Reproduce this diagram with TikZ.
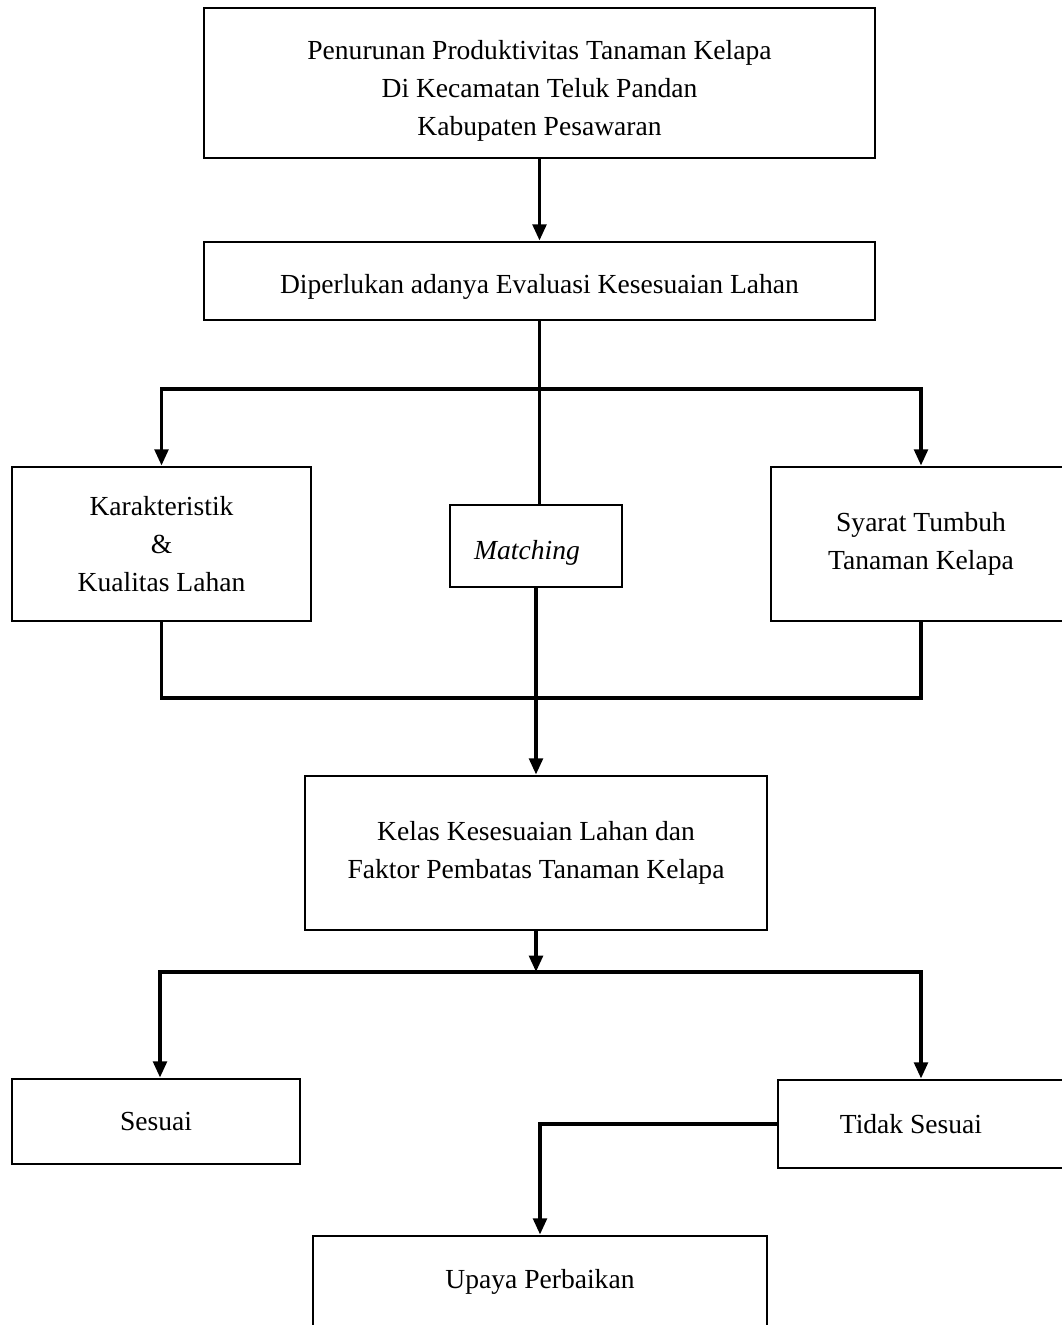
\documentclass[tikz,border=0pt]{standalone}
\usepackage{fontspec}
\setmainfont{Liberation Serif}
\usetikzlibrary{arrows.meta}
\begin{document}
\begin{tikzpicture}[x=0.025cm,y=-0.025cm,
  kotak/.style={draw,line width=1.9pt,align=center,inner sep=0pt,font=\fontsize{19.6}{27.2}\selectfont},
  garis/.style={line width=2.7pt,line cap=rect},
  panah/.style={garis,-{Triangle[width=9.6pt,length=11.6pt]}}]

\clip (0,0) rectangle (1062,1325);

\node[kotak,minimum width=16.775cm,minimum height=3.75cm] (masalah) at (539.5,83) {\rule{0pt}{0.87cm}Penurunan Produktivitas Tanaman Kelapa\\Di Kecamatan Teluk Pandan\\Kabupaten Pesawaran};
\node[kotak,minimum width=16.775cm,minimum height=1.95cm] (evaluasi) at (539.5,281) {\rule{0pt}{0.77cm}Diperlukan adanya Evaluasi Kesesuaian Lahan};
\node[kotak,minimum width=7.475cm,minimum height=3.85cm] (karakter) at (161.5,544) {Karakteristik\\\&\\Kualitas Lahan};
\node[kotak,minimum width=4.3cm,minimum height=2.05cm] (matching) at (536,546) {\rule{0pt}{0.8cm}\textit{Matching}\hspace{0.45cm}};
\node[kotak,minimum width=7.5cm,minimum height=3.85cm] (syarat) at (921,544) {Syarat Tumbuh\\Tanaman Kelapa};
\node[kotak,minimum width=11.55cm,minimum height=3.85cm] (kelas) at (536,853) {Kelas Kesesuaian Lahan dan\\Faktor Pembatas Tanaman Kelapa};
\node[kotak,minimum width=7.2cm,minimum height=2.125cm] (sesuai) at (156,1121.5) {Sesuai};
\node[kotak,minimum width=7.15cm,minimum height=2.2cm] (tidak) at (921,1124) {Tidak Sesuai\hspace{0.5cm}};
\node[kotak,minimum width=11.35cm,minimum height=2.3cm] (upaya) at (540,1282) {Upaya Perbaikan};

\coordinate (kiri1) at (161.5,389);
\coordinate (kanan1) at (921,389);
\coordinate (kiri2) at (160,972);
\coordinate (kanan2) at (921,972);

\draw[panah] (masalah) -- (evaluasi);
\draw[garis] (evaluasi.south) -- (evaluasi.south |- matching.north);
\draw[garis] (kiri1) -- (kanan1);
\draw[panah] (kiri1) -- (karakter.north);
\draw[panah] (kanan1) -- (syarat.north);
\draw[garis] (karakter.south) -- ++(0,76) -| (syarat.south);
\draw[panah] (matching) -- (kelas);

\draw[panah] (kelas.south) -- (kelas.south |- kiri2);
\draw[garis] (kiri2) -- (kanan2);
\draw[panah] (kiri2) -- (kiri2 |- sesuai.north);
\draw[panah] (kanan2) -- (tidak.north);
\draw[panah] (tidak.west) -| (upaya.north);

\end{tikzpicture}
\end{document}
